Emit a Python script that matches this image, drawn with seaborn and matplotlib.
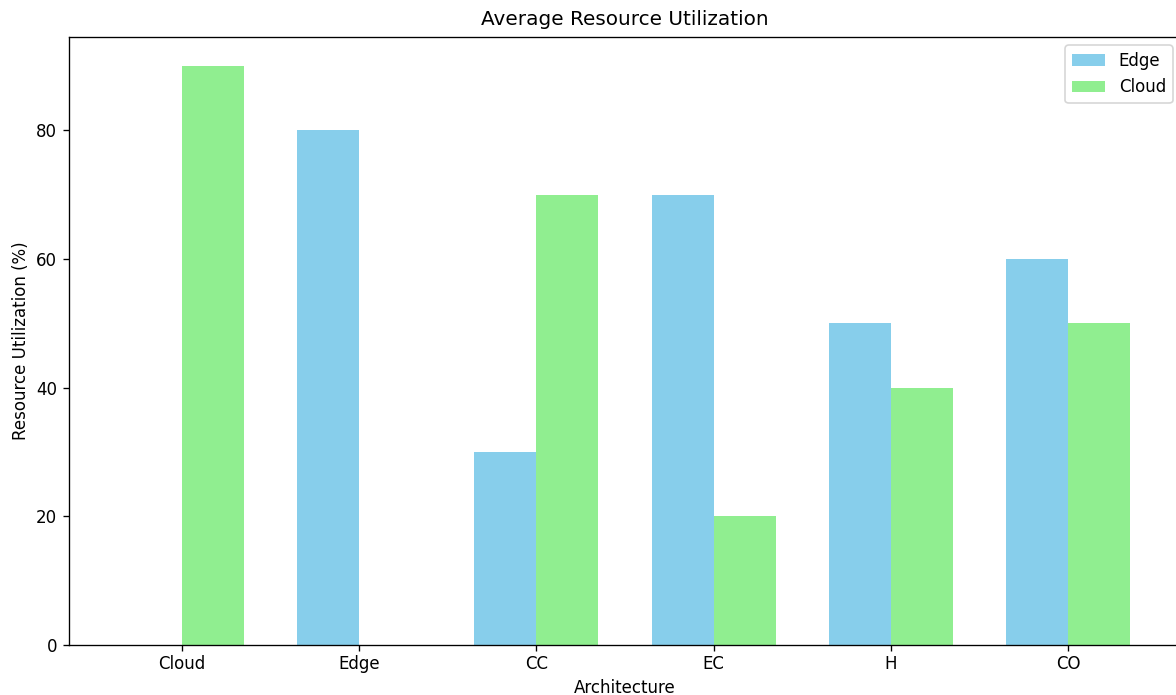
import matplotlib
matplotlib.use("Agg")
import matplotlib.pyplot as plt
import seaborn as sns
import pandas as pd

categories = ["Cloud", "Edge", "CC", "EC", "H", "CO"]
edge_values = [0, 80, 30, 70, 50, 60]
cloud_values = [90, 0, 70, 20, 40, 50]
series_names = ["Edge", "Cloud"]
colors = {"Edge": "skyblue", "Cloud": "lightgreen"}

df = pd.DataFrame({
    "Architecture": categories * 2,
    "Value": edge_values + cloud_values,
    "Series": ["Edge"] * len(categories) + ["Cloud"] * len(categories),
})

W, H = 1176, 695
DPI = 120
fig = plt.figure(figsize=(W / DPI, H / DPI), dpi=DPI)
ax = fig.add_axes([69 / W, (H - 645) / H, 1112 / W, 608 / H])

sns.barplot(data=df, x="Architecture", y="Value", hue="Series",
            hue_order=series_names, order=categories, palette=colors,
            width=0.7, saturation=1, ax=ax, errorbar=None)

bw = 0.35
lo, hi = -bw, len(categories) - 1 + bw
pad = 0.05 * (hi - lo)
ax.set_xlim(lo - pad, hi + pad)
ymax = max(max(edge_values), max(cloud_values))
ax.set_ylim(0, ymax * 1.05)
ax.set_yticks([0, 20, 40, 60, 80])
ax.tick_params(axis="x", pad=2.5)

ax.set_title("Average Resource Utilization", fontsize=12, pad=7.2)
ax.set_xlabel("Architecture", labelpad=3.5)
ax.set_ylabel("Resource Utilization (%)")
handles, labels = ax.get_legend_handles_labels()
ax.legend(handles, labels, loc="upper right")

fig.savefig("out.png", dpi=DPI)
